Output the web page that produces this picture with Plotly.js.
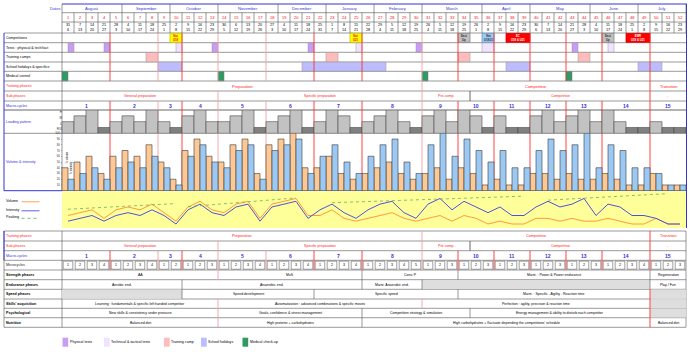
<!DOCTYPE html>
<html><head><meta charset="utf-8">
<script src="https://cdn.plot.ly/plotly-3.0.1.min.js"></script>
<style>html,body{margin:0;padding:0;background:#fff}#chart{width:690px;height:352px}</style>
</head><body><div id="chart"></div>
<script>
// ---------------- DATA ----------------
const weeks = [1,2,3,4,5,6,7,8,9,10,11,12,13,14,15,16,17,18,19,20,21,22,23,24,25,26,27,28,29,30,31,32,33,34,35,36,37,38,39,40,41,42,43,44,45,46,47,48,49,50,51,52];
const months = ['August','September','October','November','December','January','February','March','April','May','June','July'];
const monthWeeks = [5,4,4,5,4,4,4,5,4,5,4,4];
const weekStartDay = [31,7,14,21,28,4,11,18,25,2,9,16,23,30,6,13,20,27,4,11,18,25,1,8,15,22,29,5,12,19,26,5,12,19,26,2,9,16,23,30,7,14,21,28,4,11,18,25,2,9,16,23];
const weekEndDay   = [6,13,20,27,3,10,17,24,1,8,15,22,29,5,12,19,26,3,10,17,24,31,7,14,21,28,4,11,18,25,4,11,18,25,1,8,15,22,29,6,13,20,27,3,10,17,24,1,8,15,22,29];

const volume    = [40,50,60,30,60,70,60,80,50,20,70,90,60,50,80,90,30,80,90,100,40,40,60,30,20,30,40,50,30,20,30,40,20,40,30,10,20,10,10,30,30,20,30,20,20,30,20,10,10,30,10,10];
const intensity = [20,30,40,20,40,50,40,60,40,10,60,80,50,40,70,80,20,70,80,90,30,60,80,50,30,60,80,90,50,30,80,100,60,90,70,50,70,40,40,70,90,70,80,100,40,80,70,40,40,30,10,10];
const loading   = [2,3,4,1,2,3,2,4,2,1,3,4,2,2,3,4,1,2,3,4,1,2,4,3,1,2,3,4,2,1,3,4,2,4,3,1,3,1,1,3,4,2,3,4,2,4,2,1,1,2,1,1];
const peakingWeek  = [1,10,null,11,20,null,23,39,null,41,51];
const peakingValue = [62,82,null,71,102,null,85,108,null,94,117];

const macroLengths = [4,4,2,3,4,4,4,5,3,3,3,3,3,4,3];

const phaseNames = ['Preparation','Competitive','Transition'];
const phaseEnds  = [30,49,52];
const subPhaseNames = ['General preparation','Specific preparation','Pre-comp.','Competitive','-'];
const subPhaseEnds  = [13,30,34,49,52];

const strengthNames = ['AA','MxS','Conv. P','Maint. : Power & Power endurance','Regeneration'];
const strengthEnds  = [13,25,33,49,52];
const enduranceNames = ['Aerobic end.','Anaerobic end.','Maint. Anaerobic end.','','Play / Fun'];
const enduranceEnds  = [10,25,30,49,52];
const speedNames = ['','Speed development','Specific speed','Maint. : Specific - Agility - Reaction time',''];
const speedEnds  = [10,21,33,49,52];
const skillsNames = ['Learning : fundamentals & specific left handed competitor','Automatization : advanced combinations & specific moves','Perfection : agility, precision & reaction time',''];
const skillsEnds  = [13,30,49,52];
const psychNames = ['New skills & consistency under pressure','Goals, confidence & stress management','Competition strategy & simulation','Energy management & ability to disturb each competitor',''];
const psychEnds  = [13,25,34,49,52];
const nutritionNames = ['Balanced diet','High proteins + carbohydrates',"High carbohydrates + fluctuate depending the competitions' schedule",'Balanced diet'];
const nutritionEnds  = [13,25,49,52];

const compFrom  = [9.5,24.5,33.5,35.5,37.5,45.5,47.5];
const compTo    = [10.5,25.5,34.5,36.5,39.5,46.5,49.5];
const compLabel = ['Nat<br>U18','Nat<br>U21','East<br>Up','Nat<br>U18/21','EC<br>U18 & U21','East<br>Up','EMR<br>U18 & U21'];
const compKind  = ['nat','nat','cup','natb','ec','cup','ec'];

const physTestFrom = [1,4,13,21,30,43];
const physTestTo   = [1.5,4.5,13.5,21.5,30.5,43.5];
const techTestFrom = [10,25,35.5,46];
const techTestTo   = [10.5,25.5,36.5,46.5];
const campFrom = [7.5,22.5,33.5,43.5];
const campTo   = [8.5,23.5,34.5,44.5];
const holidayFrom = [8.5,20.5,37.5,48.5];
const holidayTo   = [10.5,27.5,39.5,50.5];
const medicalFrom = [0.5,13.5,30.5,42.5];
const medicalTo   = [1,14,31,43];

const legendNames = ['Physical tests','Technical & tactical tests','Training camp','School holidays','Medical check-up'];

// ---------------- STYLE / LAYOUT HELPERS ----------------
const FONT = 'Liberation Sans, Arial, sans-serif';
const W0 = -4.6667, W1 = 52.8333;
const GRID = '#555555', RED = '#ff3030', PINK = '#f5a0a0', BLUE = '#3333dd';
const C_PHYS = '#c99cf7', C_TECH = '#efe3ff', C_CAMP = '#ffbcbc', C_HOL = '#bcbcff', C_MED = '#2e9a63';
const compStyle = {nat:{fill:'#ffff00',txt:'#ff0000',line:'#c8c800'}, cup:{fill:'#c0c0c0',txt:'#333',line:'#888'},
                   natb:{fill:'#9ccbf5',txt:'#333',line:'#6699cc'}, ec:{fill:'#ff0000',txt:'#fff',line:'#cc0000'}};
const pinkBounds = [9,14,18,31];

const shapes = [], ann = [];
const P = p => p/690;
function hline(y, x0, x1, color, w){ shapes.push({type:'line',xref:'paper',yref:'y',x0:P(x0),x1:P(x1),y0:y,y1:y,line:{color:color,width:w||0.6},layer:'below'}); }
function vlinePx(xp, y0, y1, color, w){ shapes.push({type:'line',xref:'paper',yref:'y',x0:P(xp),x1:P(xp),y0:y0,y1:y1,line:{color:color,width:w||0.6},layer:'below'}); }
function vline(xw, y0, y1, color, w){ shapes.push({type:'line',xref:'x',yref:'y',x0:xw,x1:xw,y0:y0,y1:y1,line:{color:color,width:w||0.6},layer:'below'}); }
function rect(x0, x1, y0, y1, fill, lc, lw){ shapes.push({type:'rect',xref:'x',yref:'y',x0:x0,x1:x1,y0:y0,y1:y1,fillcolor:fill,line:{color:lc||'rgba(0,0,0,0)',width:lw||0},layer:'below'}); }
function T(x, y, text, o){ o=o||{}; return {x:x,y:y,xref:o.xref||'x',yref:'y',text:text,showarrow:false,
  xanchor:o.xa||'center',yanchor:'middle',textangle:o.angle||0,borderpad:0,
  font:{family:FONT,size:o.size||3.6,color:o.color||'#000'}}; }
function label(y, text, color, bold){ ann.push(T(P(5), y, bold?'<b>'+text+'</b>':text, {xref:'paper', xa:'left', size:3.6, color:color||'#000'})); }

// ---------------- HEADER (dates) ----------------
hline(4, 62, 687, BLUE, 1);
hline(12.7, 62, 686, GRID); hline(22, 62, 686, GRID);
ann.push(T(P(61), 8.4, 'Dates', {xref:'paper', xa:'right', size:4, color:BLUE}));
let wk = 1;
months.forEach((m,i)=>{
  const a = wk-0.5, b = wk+monthWeeks[i]-0.5;
  ann.push(T((a+b)/2, 8.4, m, {size:4.2, color:BLUE}));
  vline(b, 4, 12.7, GRID);
  wk += monthWeeks[i];
});
weeks.forEach((w,i)=>{
  vline(w+0.5, 12.7, 33, GRID);
  ann.push(T(w, 17.4, String(w), {size:4, color:'#ff0000'}));
  ann.push(T(w, 25.4, String(weekStartDay[i]), {size:3.8}));
  ann.push(T(w, 30.2, String(weekEndDay[i]), {size:3.8}));
});
vlinePx(62, 4, 190.7, GRID);

// ---------------- TOP ROWS ----------------
const topRowLines = [33,42.7,52.3,62,71.3,81,91,101];
topRowLines.forEach(y=>hline(y, 4, 686, GRID));
hline(110, 4, 686, '#9a9a9a', 1.4);
hline(133.3, 4, 686, '#777', 0.8);
hline(190.7, 4, 686, BLUE, 1);
vlinePx(4, 33, 190.7, BLUE, 1);
vlinePx(686.5, 4, 228, BLUE, 1);

label(38, 'Competitions'); label(47.5, 'Tests : physical & tech/tact'); label(57, 'Training camps');
label(66.6, 'School holidays & specifics'); label(76.2, 'Medical control');
label(86, 'Training phases', '#ff2020'); label(96, 'Sub-phases', '#ff2020'); label(105.6, 'Macro-cycles', BLUE);
label(121.8, 'Loading pattern', BLUE); label(162, 'Volume & intensity', BLUE);

physTestFrom.forEach((a,i)=>rect(a, physTestTo[i], 42.9, 52.1, C_PHYS, '#999', 0.5));
techTestFrom.forEach((a,i)=>rect(a, techTestTo[i], 42.9, 52.1, C_TECH, '#999', 0.5));
campFrom.forEach((a,i)=>rect(a, campTo[i], 52.5, 61.8, C_CAMP, '#999', 0.5));
holidayFrom.forEach((a,i)=>rect(a, holidayTo[i], 62.2, 71.1, C_HOL, '#999', 0.5));
medicalFrom.forEach((a,i)=>rect(a, medicalTo[i], 71.5, 80.8, C_MED, '#777', 0.5));
compFrom.forEach((a,i)=>{
  const s = compStyle[compKind[i]];
  rect(a, compTo[i], 33.4, 42.3, s.fill, s.line, 0.8);
  ann.push(T((a+compTo[i])/2, 37.9, '<b>'+compLabel[i]+'</b>', {size:2.8, color:s.txt}));
});

const macroStarts = [];
let acc = 1; macroLengths.forEach(l=>{ macroStarts.push(acc); acc += l; });
macroStarts.slice(1).forEach(b=>{
  const c = pinkBounds.includes(b) ? PINK : RED;
  vline(b-0.5, 33, 81, c, 0.9);
  vline(b-0.5, 101, 190.7, c, 0.9);
  vline(b-0.5, 250.7, 270, c, 0.9);
});
function segText(names, ends, yc, size, color, boundsFn, y0, y1){
  let s = 1;
  names.forEach((n,i)=>{
    const e = ends[i];
    if(n) ann.push(T((s-0.5+e+0.5)/2, yc, n, {size:size, color:color}));
    if(i>0 && boundsFn) boundsFn(s, y0, y1);
    s = e+1;
  });
}
function phaseBound(b, y0, y1){ vline(b-0.5, y0, y1, b===50 ? RED : (b===35 ? GRID : PINK), 0.9); }
segText(phaseNames, phaseEnds, 86, 4, '#ff2020', phaseBound, 81, 91);
segText(subPhaseNames, subPhaseEnds, 96, 3.6, '#ff2020', phaseBound, 91, 101);
macroStarts.forEach((s,i)=>ann.push(T(s-0.5+macroLengths[i]/2, 105.6, '<b>'+(i+1)+'</b>', {size:5, color:BLUE})));

shapes.push({type:'rect',xref:'x',yref:'y',x0:0.5,x1:52.5,y0:190.9,y1:228,fillcolor:'#ffff99',line:{width:0},layer:'below'});
[['Volume',200.5,'#ff9a3c'],['Intensity',209.5,'#5050e0'],['Peaking',217,'#66bb66']].forEach(r=>{
  ann.push(T(P(5), r[1], r[0], {xref:'paper', xa:'left', size:3.6}));
  shapes.push({type:'line',xref:'paper',yref:'y',x0:P(21.5),x1:P(39.5),y0:r[1]+1.3,y1:r[1]+1.3,line:{color:r[2],width:0.9,dash:r[0]==='Peaking'?'dot':'solid'},layer:'below'});
});
ann.push(T(0.93, 157, '% volume', {angle:-90, size:2.6}));
ann.push(T(1.28, 168, '% intensity', {angle:-90, size:2.6}));

// ---------------- BOTTOM TABLE ----------------
const botLines = [231,241,250.7,260.3,270,279.7,289.3,299,308.3,317.7,327.3];
botLines.forEach(y=>hline(y, 4, 686, GRID));
vlinePx(4, 231, 327.3, GRID); vlinePx(4, 231, 260.3, BLUE, 1); vlinePx(62, 231, 327.3, GRID); vlinePx(686, 231, 327.3, GRID);
label(236, 'Training phases', '#ff2020'); label(245.8, 'Sub-phases', '#ff2020'); label(255.5, 'Macro-cycles', BLUE);
label(265.2, 'Microcycles', '#222'); label(274.9, 'Strength phases', '#000', true); label(284.5, 'Endurance phases', '#000', true);
label(294.2, 'Speed phases', '#000', true); label(303.7, "Skills' acquisition", '#000', true); label(313, 'Psychological', '#000', true);
label(322.5, 'Nutrition', '#000', true);
segText(phaseNames, phaseEnds, 236, 3.8, '#ff2020', phaseBound, 231, 241);
segText(subPhaseNames, subPhaseEnds, 245.8, 3.6, '#ff2020', phaseBound, 241, 250.7);
macroStarts.forEach((s,i)=>{
  ann.push(T(s-0.5+macroLengths[i]/2, 255.5, '<b>'+(i+1)+'</b>', {size:5, color:BLUE}));
  for(let k=0;k<macroLengths[i];k++){
    const w = s+k;
    rect(w-0.4, w+0.4, 261.2, 269.2, '#fff', '#444', 0.5);
    ann.push(T(w, 265.2, String(k+1), {size:3.6}));
  }
});
function contentRow(names, ends, y0, y1, special){
  let s = 1;
  names.forEach((n,i)=>{
    const e = ends[i];
    if(!n) rect(s-0.5, e+0.5, y0+0.3, y1-0.3, '#dedede');
    else ann.push(T((s+e)/2, (y0+y1)/2, n, {size:3.5}));
    if(i>0){ const c = special && special[s] ? special[s] : GRID; vline(s-0.5, y0, y1, c, c===GRID?0.6:0.9); }
    s = e+1;
  });
}
contentRow(strengthNames, strengthEnds, 270, 279.7, {14:PINK});
contentRow(enduranceNames, enduranceEnds, 279.7, 289.3, {});
contentRow(speedNames, speedEnds, 289.3, 299, {50:RED});
contentRow(skillsNames, skillsEnds, 299, 308.3, {14:PINK, 31:PINK, 50:RED});
contentRow(psychNames, psychEnds, 308.3, 317.7, {14:PINK, 50:RED});
contentRow(nutritionNames, nutritionEnds, 317.7, 327.3, {14:PINK, 50:RED});

// ---------------- LEGEND ----------------
const legColors = [C_PHYS, C_TECH, C_CAMP, C_HOL, C_MED];
const legX = [62.5, 104, 164, 201, 242.5];
legendNames.forEach((n,i)=>{
  shapes.push({type:'rect',xref:'paper',yref:'y',x0:P(legX[i]),x1:P(legX[i]+5.7),y0:337.7,y1:346.7,fillcolor:legColors[i],line:{width:0},layer:'below'});
  ann.push(T(P(legX[i]+6), 342.2, n, {xref:'paper', xa:'left', size:3.6}));
});

// ---------------- TRACES ----------------
const traces = [
  {type:'bar', x:weeks, y:volume, xaxis:'x', yaxis:'y2', marker:{color:'#fdc894', line:{color:'#3a3a3a', width:0.6}}, hoverinfo:'skip'},
  {type:'bar', x:weeks, y:intensity, xaxis:'x', yaxis:'y2', marker:{color:'#9cc9f3', line:{color:'#3a3a3a', width:0.6}}, hoverinfo:'skip'},
  {type:'bar', x:weeks, y:loading, xaxis:'x', yaxis:'y3', width:1,
   marker:{color:loading.map(v=>v===1?'#808080':'#c2c2c2'), line:{color:'#4a4a4a', width:0.6}}, hoverinfo:'skip'},
  {type:'scatter', mode:'lines', x:weeks, y:volume, xaxis:'x', yaxis:'y4', line:{color:'#ff9a3c', width:1}, hoverinfo:'skip'},
  {type:'scatter', mode:'lines', x:weeks, y:intensity, xaxis:'x', yaxis:'y4', line:{color:'#5050e0', width:1}, hoverinfo:'skip'},
  {type:'scatter', mode:'lines', x:peakingWeek, y:peakingValue, xaxis:'x', yaxis:'y4', connectgaps:false, line:{color:'#5fb35f', width:0.8, dash:'dot'}, hoverinfo:'skip'}
];

const dom = (top, bot) => [(352-bot)/352, (352-top)/352];
const layout = {
  width:690, height:352, margin:{l:0,r:0,t:0,b:0}, paper_bgcolor:'#ffffff', plot_bgcolor:'rgba(0,0,0,0)',
  showlegend:false, barmode:'group', bargap:0, bargroupgap:0, font:{family:FONT, size:4},
  xaxis:{range:[W0,W1], visible:false, fixedrange:true},
  yaxis:{range:[352,0], domain:[0,1], visible:false},
  yaxis2:{domain:dom(133.3,190.7), range:[0,100], anchor:'free', position:P(62), showgrid:false, zeroline:false, showline:false,
          tickvals:[10,20,30,40,50,60,70,80,90,100], ticks:'outside', ticklen:1.5, tickcolor:'#666', tickwidth:0.5, tickfont:{size:2.8, color:'#333'}},
  yaxis3:{domain:dom(110,133.3), range:[0,4], anchor:'free', position:P(62), showgrid:false, zeroline:false, showline:false,
          tickvals:[0.7,1.6,2.6,3.6], ticktext:['R/U','L','M','H'], ticks:'', tickfont:{size:3, color:'#333'}},
  yaxis4:{domain:dom(190.9,228), range:[-4,126.6], visible:false},
  shapes:shapes, annotations:ann
};
Plotly.newPlot('chart', traces, layout, {staticPlot:true, displayModeBar:false});
</script></body></html>
